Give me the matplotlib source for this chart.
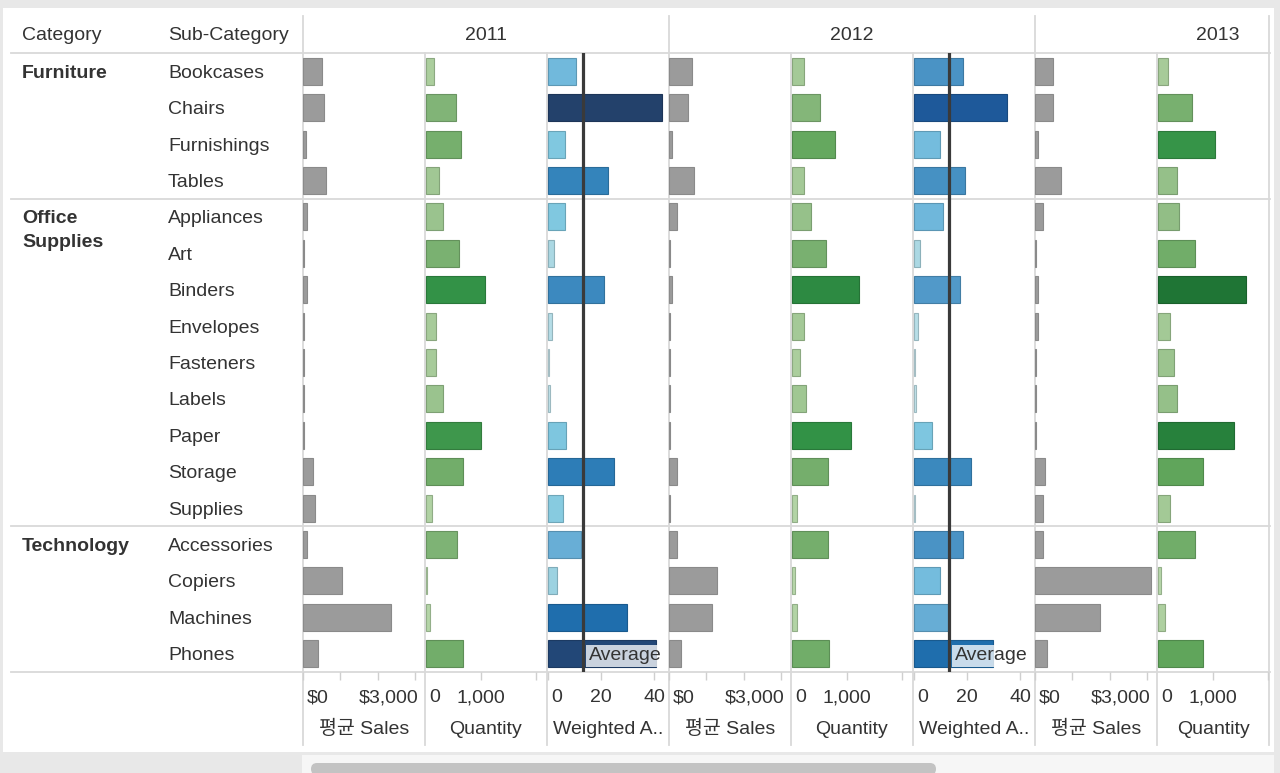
import matplotlib
matplotlib.use('Agg')
import matplotlib.pyplot as plt
from matplotlib.colors import LinearSegmentedColormap
from matplotlib.patches import Rectangle, FancyBboxPatch

plt.rcParams['font.family'] = ['Liberation Sans', 'Noto Sans CJK KR', 'DejaVu Sans']
plt.rcParams['font.size'] = 14

# data
categories = ['Furniture', 'Office Supplies', 'Technology']
category_rows = [0, 4, 13]
sub_categories = ['Bookcases', 'Chairs', 'Furnishings', 'Tables', 'Appliances', 'Art', 'Binders',
                  'Envelopes', 'Fasteners', 'Labels', 'Paper', 'Storage', 'Supplies',
                  'Accessories', 'Copiers', 'Machines', 'Phones']
years = ['2011', '2012', '2013']

sales_2011 = [520, 563, 72, 608, 118, 27, 118, 27, 20, 27, 27, 268, 313, 118, 1056, 2370, 413]
sales_2012 = [617, 509, 80, 670, 223, 20, 80, 20, 20, 20, 20, 223, 20, 223, 1295, 1153, 322]
sales_2013 = [474, 474, 72, 705, 223, 27, 72, 72, 27, 27, 27, 268, 223, 223, 3100, 1734, 313]

qty_2011 = [145, 540, 636, 242, 303, 606, 1067, 176, 176, 303, 1000, 667, 103, 570, 20, 73, 667]
qty_2012 = [212, 515, 776, 212, 345, 612, 1212, 212, 145, 248, 1073, 648, 85, 648, 48, 85, 679]
qty_2013 = [188, 618, 1042, 352, 388, 679, 1606, 218, 285, 352, 1376, 812, 218, 679, 55, 121, 812]

wavg_2011 = [10.6, 42.7, 6.5, 22.8, 6.5, 2.4, 21.3, 1.7, 0.4, 1.1, 7.1, 24.8, 5.7, 12.7, 3.7, 29.6, 40.6]
wavg_2012 = [18.7, 35.0, 9.9, 19.4, 11.1, 2.4, 17.4, 1.6, 0.4, 0.9, 7.0, 21.5, 0.4, 18.7, 9.9, 13.1, 29.7]
wavg_average = 13.2

TXT = '#333333'
LINE = '#d9d9d9'
W, H = 1280, 773

green = LinearSegmentedColormap.from_list('g', [(0, '#bcdcb0'), (0.1, '#a9cc9b'), (0.35, '#7fb375'),
                                               (0.5, '#62a65c'), (0.66, '#339347'), (1.0, '#1f7535')])
blue = LinearSegmentedColormap.from_list('b', [(0, '#cde9ef'), (0.06, '#a8d6e2'), (0.15, '#80c8e0'),
                                              (0.25, '#71b9dc'), (0.3, '#68aed6'), (0.44, '#4a93c5'),
                                              (0.53, '#3484bb'), (0.69, '#1f6fae'), (0.81, '#1e5a9c'),
                                              (1.0, '#23416b')])


def darker(c, f=0.82):
    return tuple(v * f for v in c[:3])


fig = plt.figure(figsize=(W / 100, H / 100), dpi=100)
fig.patch.set_facecolor('#e8e8e8')

bg = fig.add_axes([0, 0, 1, 1])
bg.set_xlim(0, W)
bg.set_ylim(H, 0)
bg.axis('off')

# white canvas + scrollbar
bg.add_patch(Rectangle((3, 8), 1271, 744, fc='white', ec='none'))
bg.add_patch(Rectangle((302, 755), 972, 20, fc='#f6f6f6', ec='none'))
bg.add_patch(FancyBboxPatch((311, 763), 625, 12, boxstyle='round,pad=0,rounding_size=6',
                            fc='#c3c3c3', ec='none'))

top, bottom = 53, 672
row_h = (bottom - top) / len(sub_categories)
left = 303
pw = 122
right_edge = 1269

# grid lines
for y in [top, top + 4 * row_h, top + 13 * row_h, bottom]:
    bg.plot([11, right_edge + 1], [y, y], color=LINE, lw=1.3, zorder=1)
for k in range(9):
    x = left + k * pw
    if x > right_edge:
        x = right_edge
    y0 = 16 if k % 3 == 0 or x == right_edge else top
    bg.plot([x, x], [y0, 745], color=LINE, lw=1.3, zorder=1)

# headers
bg.text(22, 33, 'Category', color=TXT, va='center_baseline', ha='left')
bg.text(168, 33, 'Sub-Category', color=TXT, va='center_baseline', ha='left')
for k, yr in enumerate(years):
    bg.text(left + k * 3 * pw + 1.5 * pw, 33, yr, color=TXT, va='center_baseline', ha='center')

for i, s in enumerate(sub_categories):
    bg.text(168, top + row_h * (i + 0.5), s, color=TXT, va='center_baseline', ha='left')
for cat, r in zip(categories, category_rows):
    yc = top + row_h * (r + 0.5)
    if cat == 'Office Supplies':
        bg.text(22, yc, 'Office', color=TXT, weight='bold', va='center_baseline', ha='left')
        bg.text(22, yc + 24, 'Supplies', color=TXT, weight='bold', va='center_baseline', ha='left')
    else:
        bg.text(22, yc, cat, color=TXT, weight='bold', va='center_baseline', ha='left')


def panel(k, xmin, xmax, width=pw):
    x0 = left + k * pw
    ax = fig.add_axes([x0 / W, 1 - bottom / H, width / W, (bottom - top) / H])
    ax.patch.set_alpha(0)
    ax.set_xlim(xmin, xmin + (xmax - xmin) * width / pw)
    ax.set_ylim(len(sub_categories), 0)
    for sp in ax.spines.values():
        sp.set_visible(False)
    ax.set_yticks([])
    ax.tick_params(axis='x', length=5.5, width=1, color='#cfcfcf', labelbottom=False)
    return ax


def axis_text(ax, labels, title):
    for val, lab, ha, dx in labels:
        ax.annotate(lab, xy=(val, 0), xycoords=('data', 'axes fraction'), xytext=(dx, -24),
                    textcoords='offset pixels', ha=ha, va='center_baseline', color=TXT,
                    annotation_clip=False)
    ax.annotate(title, xy=(0.5, 0), xycoords='axes fraction', xytext=(0, -55),
                textcoords='offset pixels', ha='center', va='center_baseline', color=TXT,
                annotation_clip=False)


rows = [i + 0.5 for i in range(len(sub_categories))]


def sales_panel(k, vals, width=pw):
    ax = panel(k, 0, 3271, width)
    ax.barh(rows, vals, height=0.74, color='#9b9b9b', edgecolor='#8a8a8a', lw=0.8)
    ax.set_xticks([0, 1000, 2000, 3000])
    axis_text(ax, [(0, '$0', 'left', 4), (3000, '$3,000', 'right', 4)], '평균 Sales')


def qty_panel(k, vals, width=pw):
    ax = panel(k, -18, 2200, width)
    cols = [green(v / 1606) for v in vals]
    ax.barh(rows, vals, height=0.74, color=cols, edgecolor=[darker(c) for c in cols], lw=0.8)
    ax.set_xticks([t for t in [1000, 2000] if t < ax.get_xlim()[1]])
    axis_text(ax, [(0, '0', 'left', 3), (1000, '1,000', 'center', 0)], 'Quantity')


def wavg_panel(k, vals):
    ax = panel(k, -0.2, 45.5)
    cols = [blue(v / 42.7) for v in vals]
    ax.barh(rows, vals, height=0.74, color=cols, edgecolor=[darker(c) for c in cols], lw=0.8)
    ax.axvline(wavg_average, color='#3a3a3a', lw=2.3, zorder=4)
    ax.annotate('Average', xy=(wavg_average, rows[-1]), xytext=(6, 0), textcoords='offset pixels',
                ha='left', va='center_baseline', color=TXT, zorder=5, annotation_clip=False,
                bbox=dict(boxstyle='square,pad=0.12', fc='white', ec='none', alpha=0.76))
    ax.set_xticks([0, 20, 40])
    axis_text(ax, [(0, '0', 'left', 4), (20, '20', 'center', 0), (40, '40', 'center', 0)],
              'Weighted A..')


sales_panel(0, sales_2011)
qty_panel(1, qty_2011)
wavg_panel(2, wavg_2011)
sales_panel(3, sales_2012)
qty_panel(4, qty_2012)
wavg_panel(5, wavg_2012)
sales_panel(6, sales_2013)
qty_panel(7, qty_2013, width=right_edge - (left + 7 * pw))

fig.savefig('out.png', dpi=100)
